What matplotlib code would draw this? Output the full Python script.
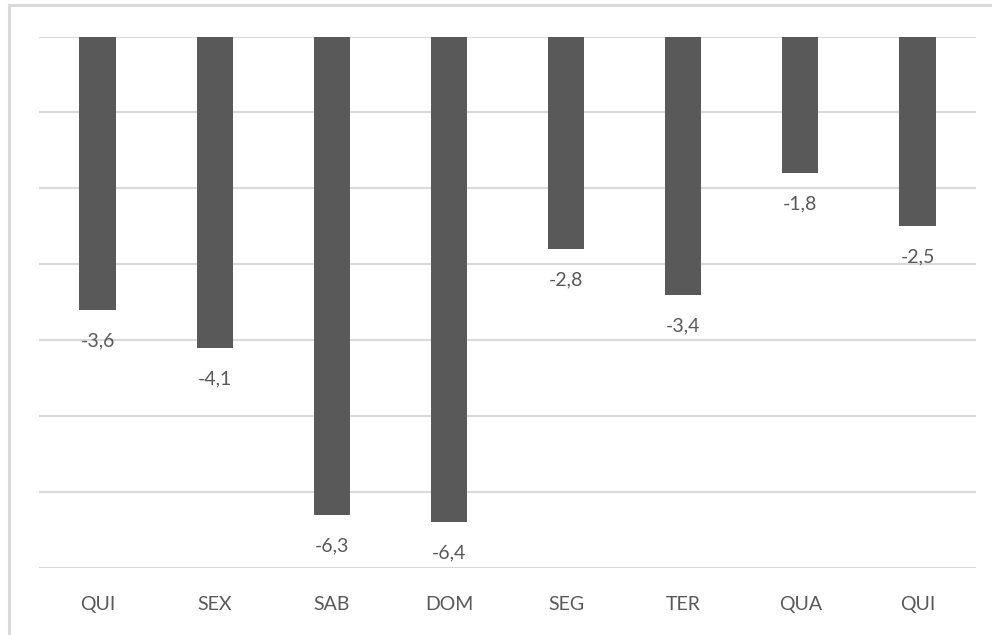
import matplotlib
matplotlib.use('Agg')
import matplotlib.pyplot as plt
from matplotlib.patches import Rectangle

plt.rcParams['font.family'] = ['Lato', 'DejaVu Sans']

dias = ['QUI', 'SEX', 'SAB', 'DOM', 'SEG', 'TER', 'QUA', 'QUI']
variacao = [-3.6, -4.1, -6.3, -6.4, -2.8, -3.4, -1.8, -2.5]

W, H = 992, 635
fig = plt.figure(figsize=(W / 100, H / 100), dpi=100)
fig.patch.set_facecolor('white')

# moldura da área do gráfico
fig.patches.append(Rectangle((9 / W, -0.05), 1.2, 1 - 5 / H + 0.05,
                             transform=fig.transFigure, fill=False,
                             edgecolor='#d9d9d9', linewidth=2.2))

ax = fig.add_axes([39 / W, 1 - 568 / H, (976 - 39) / W, (568 - 36.5) / H])
x = range(len(dias))
barras = ax.bar(x, variacao, width=0.31, color='#595959', zorder=3)

ax.set_xlim(-0.5, len(dias) - 0.5)
ax.set_ylim(-7, 0)
ax.set_yticks(range(-7, 1))
ax.yaxis.grid(True, color='#d9d9d9', linewidth=1.5, zorder=0)
ax.tick_params(axis='y', left=False, labelleft=False)
ax.tick_params(axis='x', bottom=False, pad=16.5, labelsize=14, labelcolor='#595959')
ax.set_xticks(list(x))
ax.set_xticklabels(dias)
for s in ax.spines.values():
    s.set_visible(False)

for xi, v in zip(x, variacao):
    ax.annotate(f'{v:.1f}'.replace('.', ','), (xi, v), xytext=(0, -16),
                textcoords='offset points', ha='center', va='top',
                fontsize=14, color='#595959')

fig.savefig('out.png', dpi=100)
